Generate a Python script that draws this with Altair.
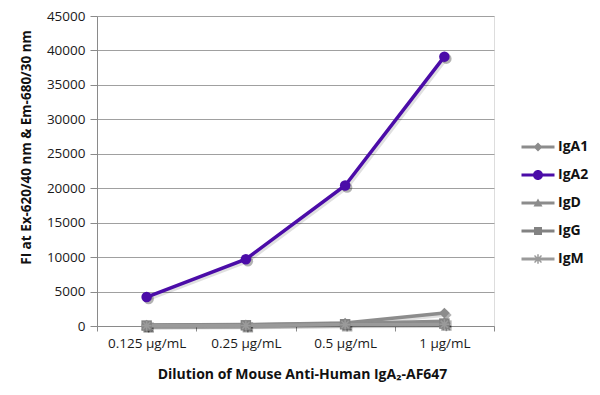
import altair as alt
import pandas as pd

dilutions = ["0.125 µg/mL", "0.25 µg/mL", "0.5 µg/mL", "1 µg/mL"]
series_names = ["IgA1", "IgA2", "IgD", "IgG", "IgM"]
IgA1 = [150, 200, 450, 1900]
IgA2 = [4200, 9700, 20400, 39100]
IgD = [80, 150, 350, 700]
IgG = [60, 100, 250, 350]
IgM = [50, 80, 200, 250]
colors = ["#8c8c8c", "#4b0ca8", "#8c8c8c", "#828282", "#9a9a9a"]
y_ticks = [0, 5000, 10000, 15000, 20000, 25000, 30000, 35000, 40000, 45000]

rows = []
for name, vals in zip(series_names, [IgA1, IgA2, IgD, IgG, IgM]):
    for d, v in zip(dilutions, vals):
        rows.append({"series": name, "dilution": d, "value": v})
df = pd.DataFrame(rows)

ASTER = ("M-0.15,-0.95H0.15V0.95H-0.15Z"
         "M-0.95,-0.15H0.95V0.15H-0.95Z"
         "M-0.8,-0.6L-0.6,-0.8L0.8,0.6L0.6,0.8Z"
         "M0.6,-0.8L0.8,-0.6L-0.6,0.8L-0.8,0.6Z")
shapes = ["diamond", "circle", "triangle-up", "square", ASTER]

LINE = "M-3.3,-0.3H3.3V0.3H-3.3Z"
leg_shapes = [
    LINE + "M0,-0.9L0.9,0L0,0.9L-0.9,0Z",
    LINE + "M-1,0A1,1 0 1,1 1,0A1,1 0 1,1 -1,0Z",
    LINE + "M0,-0.9L0.9,0.7L-0.9,0.7Z",
    LINE + "M-0.8,-0.8H0.8V0.8H-0.8Z",
    LINE + ASTER,
]

FONT = "Open Sans"

x_enc = alt.X(
    "dilution:N",
    sort=dilutions,
    scale=alt.Scale(type="band", paddingInner=0, paddingOuter=0),
    axis=alt.Axis(
        title="Dilution of Mouse Anti-Human IgA₂-AF647",
        labelAngle=0,
        labelFontSize=13.5,
        labelFont=FONT,
        labelColor="#1a1a1a",
        labelPadding=5,
        tickBand="extent",
        tickSize=5,
        tickColor="#8a8a8a",
        domainColor="#8a8a8a",
        grid=False,
        titleFont=FONT,
        titleFontSize=14,
        titleFontWeight="bold",
        titleColor="#111111",
        titleX=205,
        titleY=48,
        titleAlign="center",
        titleBaseline="middle",
    ),
)
y_enc = alt.Y(
    "value:Q",
    scale=alt.Scale(domain=[0, 45000], nice=False),
    axis=alt.Axis(
        title="FI at Ex-620/40 nm & Em-680/30 nm",
        values=y_ticks,
        format="d",
        labelFontSize=13.5,
        labelFont=FONT,
        labelColor="#1a1a1a",
        labelPadding=5,
        tickSize=7,
        tickColor="#8a8a8a",
        domainColor="#8a8a8a",
        gridColor="#a0a0a0",
        titleFont=FONT,
        titleFontSize=13.5,
        titleFontWeight="bold",
        titleColor="#111111",
        titleAngle=270,
        titleX=-71,
        titleY=131,
        titleAlign="center",
        titleBaseline="middle",
    ),
)
color_scale = alt.Scale(domain=series_names, range=colors)
shape_scale = alt.Scale(domain=series_names, range=shapes)
leg_shape_scale = alt.Scale(domain=series_names, range=leg_shapes)

base = alt.Chart(df)

shadow_line = base.mark_line(strokeWidth=3.5, color="#000000", opacity=0.12, xOffset=2, yOffset=2).encode(
    x=x_enc, y=y_enc, detail="series:N"
)
shadow_pts = base.mark_point(filled=True, size=110, color="#000000", opacity=0.3, xOffset=2, yOffset=2).encode(
    x=x_enc, y=y_enc, shape=alt.Shape("series:N", scale=shape_scale, legend=None)
)
lines = base.mark_line(strokeWidth=3.5).encode(
    x=x_enc, y=y_enc, color=alt.Color("series:N", scale=color_scale, legend=None)
)
pts = base.mark_point(filled=True, size=110, opacity=1).encode(
    x=x_enc,
    y=y_enc,
    shape=alt.Shape("series:N", scale=shape_scale, legend=None),
    color=alt.Color("series:N", scale=color_scale, legend=None),
)

leg_props = dict(
    title=None,
    orient="none",
    legendX=434,
    legendY=124,
    symbolSize=100,
    symbolStrokeWidth=0,
    symbolOpacity=1,
    labelFont=FONT,
    labelFontSize=14,
    labelFontWeight="bold",
    labelColor="#111111",
    labelOffset=13,
    rowPadding=14,
)
legend_layer = base.mark_point(filled=True, size=100, opacity=0).encode(
    x=x_enc,
    y=y_enc,
    shape=alt.Shape("series:N", scale=leg_shape_scale, legend=alt.Legend(**leg_props)),
    color=alt.Color("series:N", scale=color_scale, legend=alt.Legend(**leg_props)),
)

chart = alt.layer(shadow_line, shadow_pts, lines, pts, legend_layer).resolve_scale(
    shape="independent", color="independent"
).resolve_legend(shape="independent", color="independent").properties(
    width=397,
    height=310,
    autosize=alt.AutoSizeParams(type="none"),
    padding={"left": 89, "top": 8, "right": 98, "bottom": 61},
).configure_view(stroke=None).configure(background="white")

chart.save("out.html", embed_options={"renderer": "svg", "actions": False})
